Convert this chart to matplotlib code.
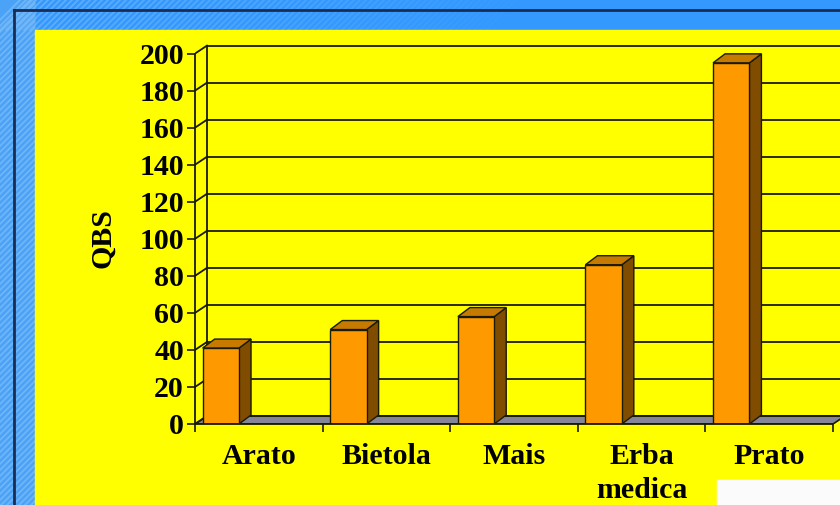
import numpy as np
import matplotlib
matplotlib.use('Agg')
import matplotlib.pyplot as plt
from matplotlib.patches import Polygon, Rectangle

plt.rcParams['font.family'] = ['Liberation Serif', 'DejaVu Serif']
plt.rcParams['font.weight'] = 'bold'

categories = ['Arato', 'Bietola', 'Mais', 'Erba\nmedica', 'Prato']
qbs = [41, 51, 58, 86, 195]
y_ticks = [0, 20, 40, 60, 80, 100, 120, 140, 160, 180, 200]
y_label = 'QBS'

W, H = 840, 505
fig = plt.figure(figsize=(W/100, H/100), dpi=100)

# background (slide) in pixel coords
bg = fig.add_axes([0, 0, 1, 1])
bg.set_xlim(0, W)
bg.set_ylim(H, 0)
bg.axis('off')
bg.add_patch(Rectangle((0, 0), W, H, color='#3399ff', zorder=0))
bg.add_patch(Rectangle((0, 0), 35, H, color='#4aa3f7', zorder=0.5))
# diagonal stripes, left band and top-left band
clip_left = Rectangle((0, 0), 35, H, transform=bg.transData)
for k in np.arange(-40, H + 60, 6):
    ln, = bg.plot([0, 60], [k + 60, k], color='#8cc4fa', lw=1.2, alpha=0.6, zorder=1)
    ln.set_clip_path(clip_left)
for k in np.arange(0, 560, 6):
    a = max(0.0, 0.55 * (1 - k / 520))
    bg.plot([k, k + 30], [30, 0], color='#8cc4fa', lw=1.2, alpha=a, zorder=1)
bg.plot([14, W], [10, 10], color='#1c2b50', lw=2, zorder=2)
bg.plot([14, 14], [10, H], color='#1c2b50', lw=2, zorder=2)
bg.add_patch(Rectangle((35, 30), W - 35, H - 30, color='#ffff00', zorder=3))
bg.add_patch(Rectangle((717, 480), W - 717, H - 480, color='#fbfbfb', zorder=4))

# chart axes
px_x = 127.6          # pixels per category
px_y = 1.852          # pixels per QBS unit
x0_px, y0_px = 195, 424
top_px = 30
ax = fig.add_axes([x0_px / W, (H - y0_px) / H, (W - x0_px) / W, (y0_px - top_px) / H])
ax.set_facecolor('none')
ax.set_xlim(0, (W - x0_px) / px_x)
ax.set_ylim(0, (y0_px - top_px) / px_y)

dx = 12 / px_x
dy = 8 / px_y
dyb = 9 / px_y
n = len(categories)
edge = '#1a1a00'

# floor
ax.add_patch(Polygon([(0, 0), (n, 0), (n + dx, dy), (dx, dy)], closed=True,
                     facecolor='#85859a', edgecolor=edge, lw=1.2, zorder=1))
# back wall and side wall gridlines
for v in y_ticks:
    ax.plot([dx, ax.get_xlim()[1]], [v + dy, v + dy], color=edge, lw=1.3, zorder=2, clip_on=False)
    ax.plot([0, dx], [v, v + dy], color=edge, lw=1.3, zorder=2)
ax.plot([dx, dx], [dy, y_ticks[-1] + dy], color=edge, lw=1.3, zorder=2)

# 3D bars
off, bw = 0.06, 0.285
for i, v in enumerate(qbs):
    xa, xb = i + off, i + off + bw
    ax.add_patch(Polygon([(xb, 0), (xb + dx, dyb), (xb + dx, v + dyb), (xb, v)], closed=True,
                         facecolor='#7f4c00', edgecolor=edge, lw=1, zorder=3))
    ax.add_patch(Polygon([(xa, v), (xb, v), (xb + dx, v + dyb), (xa + dx, v + dyb)], closed=True,
                         facecolor='#c67a00', edgecolor=edge, lw=1, zorder=3))
    ax.add_patch(Rectangle((xa, 0), bw, v, facecolor='#ff9900', edgecolor=edge, lw=1, zorder=4))

for s in ['top', 'right']:
    ax.spines[s].set_visible(False)
ax.spines['left'].set_bounds(0, y_ticks[-1])
ax.spines['bottom'].set_bounds(0, n)
for s in ['left', 'bottom']:
    ax.spines[s].set_color(edge)
    ax.spines[s].set_linewidth(1.3)
    ax.spines[s].set_zorder(5)

ax.set_yticks(y_ticks)
ax.tick_params(axis='y', length=6, width=1.2, colors=edge, labelsize=21.5, pad=2)
for lab in ax.get_yticklabels():
    lab.set_color('black')
ax.set_xticks(np.arange(n + 1))
ax.set_xticklabels([''] * (n + 1))
ax.tick_params(axis='x', which='major', length=6, width=1.2, colors=edge)
ax.set_xticks(np.arange(n) + 0.5, minor=True)
ax.set_xticklabels(categories, minor=True, fontsize=21.5, color='black', linespacing=1.3)
ax.tick_params(axis='x', which='minor', length=0, pad=14)

fig.text(103 / W, 1 - 238 / H, y_label, rotation=90, fontsize=21.5, fontweight='bold',
         ha='center', va='center')

fig.savefig('out.png', dpi=100)
